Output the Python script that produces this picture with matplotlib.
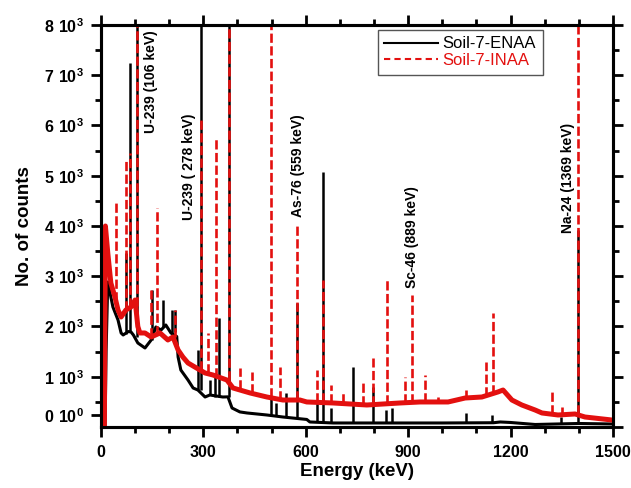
import matplotlib
matplotlib.use('Agg')
import matplotlib.pyplot as plt
from matplotlib.lines import Line2D
from matplotlib.ticker import FixedLocator, MultipleLocator, NullFormatter

plt.rcParams['font.family'] = ['Liberation Sans', 'DejaVu Sans']
plt.rcParams['mathtext.fontset'] = 'custom'
plt.rcParams['mathtext.rm'] = 'Liberation Sans'
plt.rcParams['mathtext.bf'] = 'Liberation Sans:bold'

# continuum of each spectrum (energy keV, counts)
enaa_e = [0, 12, 15, 20, 35, 50, 59, 65, 80, 88, 95, 108, 129, 147, 161, 176, 190,
          205, 222, 226, 234, 255, 270, 284, 305, 319, 357, 372, 384, 407, 428, 486,
          533, 603, 612, 680, 876, 1000, 1150, 1170, 1200, 1272, 1400, 1497]
enaa_c = [0, 0, 1500, 2885, 2388, 2129, 1871, 1831, 1900, 1891, 1831, 1672, 1572,
          1731, 1990, 1930, 2030, 1871, 1800, 1393, 1134, 935, 776, 736, 597, 637,
          597, 600, 378, 300, 279, 239, 199, 150, 100, 80, 80, 80, 85, 100, 90, 50,
          70, 60]

inaa_e = [0, 10, 13, 20, 29, 41, 50, 59, 73, 88, 100, 108, 114, 129, 147, 173, 196,
          211, 226, 240, 255, 275, 290, 305, 328, 369, 387, 437, 486, 533, 583, 603,
          680, 779, 876, 935, 1017, 1067, 1116, 1163, 1178, 1204, 1233, 1272, 1292,
          1339, 1389, 1418, 1497]
inaa_c = [0, 0, 4000, 3463, 2865, 2587, 2328, 2189, 2328, 2388, 2527, 2000, 1871,
          1871, 1791, 1871, 1732, 1791, 1532, 1393, 1274, 1194, 1134, 1075, 1035,
          935, 776, 677, 597, 537, 537, 498, 478, 438, 478, 498, 498, 577, 597, 697,
          736, 537, 438, 338, 279, 239, 259, 199, 139]

# peaks: energy, foot, top
enaa_pk_e = [73, 85, 106, 150, 182, 208, 217, 284, 293, 319, 334, 346, 375, 498, 513,
             542, 574, 632, 650, 673, 739, 797, 835, 852, 1070, 1146, 1348, 1398]
enaa_pk_lo = [1850, 1890, 1800, 1730, 1990, 1871, 1900, 736, 736, 630, 600, 600, 600,
              239, 230, 200, 190, 100, 100, 90, 85, 85, 85, 85, 85, 95, 80, 80]
enaa_pk_hi = [3460, 7244, 8100, 2730, 2530, 2330, 2330, 1530, 8100, 935, 1075, 2169,
              8100, 600, 480, 680, 2468, 480, 5075, 380, 1194, 796, 340, 380, 280, 240,
              200, 3920]

inaa_pk_e = [44, 73, 85, 106, 147, 164, 217, 293, 314, 337, 375, 407, 443, 498, 524,
             574, 633, 650, 673, 709, 768, 797, 838, 891, 911, 949, 987, 1069, 1128,
             1149, 1321, 1351, 1398]
inaa_pk_lo = [2500, 2330, 2390, 2400, 1790, 1830, 1790, 1134, 1075, 1000, 935, 760,
              670, 590, 540, 540, 490, 490, 480, 470, 440, 440, 450, 480, 480, 490,
              495, 577, 620, 650, 250, 240, 250]
inaa_pk_hi = [4458, 5353, 5453, 8100, 2730, 4358, 2330, 6150, 1870, 5771, 8100, 1175,
              1095, 8100, 1195, 4020, 1135, 2925, 835, 677, 935, 1370, 2925, 995, 2627,
              1035, 600, 736, 1294, 2269, 697, 400, 8100]

labels = ['U-239 (106 keV)', 'U-239 ( 278 keV)', 'As-76 (559 keV)',
          'Sc-46 (889 keV)', 'Na-24 (1369 keV)']
label_e = [146, 258, 577, 911, 1368]
label_c = [5850, 4120, 4180, 2770, 3860]

ytick_vals = [235, 1000, 2000, 3000, 4000, 5000, 6000, 7000, 8000]
ytick_text = [r'$\mathbf{0\ 10^{0}}$'] + [r'$\mathbf{%d\ 10^{3}}$' % i for i in range(1, 9)]

red = '#e3100f'

fig = plt.figure(figsize=(6.31, 4.88), dpi=100)
ax = fig.add_axes([0.160, 0.125, 0.8114, 0.8238])

ax.plot(enaa_e, enaa_c, color='black', lw=2.2, zorder=2)
ax.vlines(enaa_pk_e, enaa_pk_lo, enaa_pk_hi, color='black', lw=1.8, zorder=2)
ax.plot(inaa_e, inaa_c, color=red, lw=3.6, zorder=3)
ax.vlines(inaa_pk_e, inaa_pk_lo, inaa_pk_hi, color=red, lw=1.9,
          linestyles=[(0, (3.5, 1.3))], zorder=3)

for t, e, c in zip(labels, label_e, label_c):
    ax.text(e, c, t, rotation=90, ha='center', va='bottom', fontsize=10,
            fontweight='bold', zorder=4)

ax.set_xlim(0, 1500)
ax.set_ylim(0, 8000)
ax.xaxis.set_major_locator(MultipleLocator(300))
ax.xaxis.set_minor_locator(MultipleLocator(100))
ax.yaxis.set_major_locator(FixedLocator(ytick_vals))
ax.set_yticklabels(ytick_text)
ax.yaxis.set_minor_locator(MultipleLocator(1000, offset=500))

for s in ax.spines.values():
    s.set_linewidth(2.2)
ax.tick_params(which='major', direction='out', length=7, width=2.0, top=True,
               labelsize=11.5, pad=5)
ax.tick_params(which='minor', direction='out', length=4.5, width=2.0, top=True)
ax.tick_params(axis='x', pad=6)
for lab in ax.get_xticklabels():
    lab.set_fontweight('bold')

ax2 = ax.twinx()
ax2.set_ylim(0, 8000)
ax2.yaxis.set_major_locator(MultipleLocator(1000))
ax2.yaxis.set_minor_locator(MultipleLocator(500))
ax2.yaxis.set_major_formatter(NullFormatter())
for s in ax2.spines.values():
    s.set_linewidth(2.2)
ax2.tick_params(which='major', direction='out', length=7, width=2.0)
ax2.tick_params(which='minor', direction='out', length=4.5, width=2.0)

ax.set_xlabel('Energy (keV)', fontsize=13.5, fontweight='bold', labelpad=2)
ax.set_ylabel('No. of counts', fontsize=13.5, fontweight='bold', labelpad=8)

handles = [Line2D([], [], color='black', lw=1.5),
           Line2D([], [], color=red, lw=1.5, ls=(0, (3, 2)))]
leg = ax.legend(handles, ['Soil-7-ENAA', 'Soil-7-INAA'], loc='upper right',
                bbox_to_anchor=(0.863, 0.988), borderaxespad=0, fontsize=12,
                handlelength=3.2, handletextpad=0.3, labelspacing=0.1,
                borderpad=0.4, fancybox=False, framealpha=1)
leg.get_frame().set_edgecolor('#555555')
leg.get_frame().set_linewidth(1.0)
leg.get_texts()[1].set_color(red)

fig.savefig('out.png', dpi=100)
